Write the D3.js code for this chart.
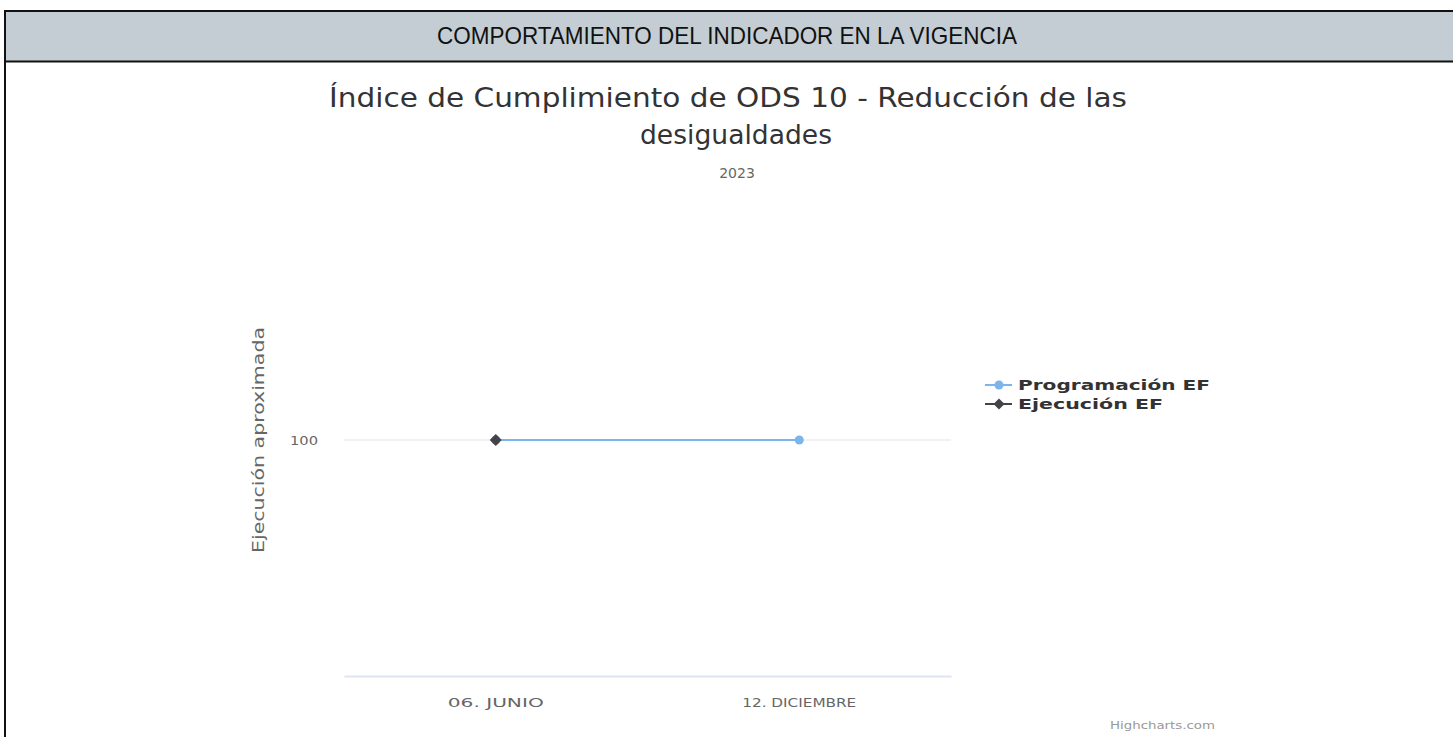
<!DOCTYPE html>
<html>
<head>
<meta charset="utf-8">
<script src="https://cdn.jsdelivr.net/npm/d3@7"></script>
<style>
  html, body { margin: 0; padding: 0; background: #ffffff; }
  svg { display: block; }
</style>
</head>
<body>
<svg id="chart" width="1453" height="737"></svg>
<script>
// Report section heading and chart texts
const sectionHeading = "COMPORTAMIENTO DEL INDICADOR EN LA VIGENCIA";
const titleLines = ["Índice de Cumplimiento de ODS 10 - Reducción de las", "desigualdades"];
const subtitle = "2023";
const yAxisTitle = "Ejecución aproximada";
const credit = "Highcharts.com";

// Categories and series
const categories = ["06. JUNIO", "12. DICIEMBRE"];
const yTicks = [100];
const programacion = [100, 100];
const ejecucion = [100, null];
const seriesNames = ["Programación EF", "Ejecución EF"];
const seriesColors = ["#7cb5ec", "#434348"];
const seriesSymbols = ["circle", "diamond"];

const svg = d3.select("#chart");
const W = 1453, H = 737;

// Section heading band with its borders
svg.append("rect").attr("x", 5).attr("y", 11).attr("width", W - 5).attr("height", 51)
  .attr("fill", "#c3cdd3");
svg.append("line").attr("x1", 4).attr("x2", W).attr("y1", 11).attr("y2", 11)
  .attr("stroke", "#111").attr("stroke-width", 2);
svg.append("line").attr("x1", 4).attr("x2", W).attr("y1", 61.5).attr("y2", 61.5)
  .attr("stroke", "#111").attr("stroke-width", 2);
svg.append("line").attr("x1", 5).attr("x2", 5).attr("y1", 10).attr("y2", H)
  .attr("stroke", "#111").attr("stroke-width", 2);

const head = svg.append("text").attr("x", 727).attr("y", 44)
  .attr("text-anchor", "middle")
  .attr("font-family", "'Liberation Sans Narrow', 'Arial Narrow', 'Liberation Sans', Arial, sans-serif")
  .attr("font-size", 24).attr("fill", "#111")
  .text(sectionHeading);
fitWidth(head, 580);

// Plot area
const plot = { left: 344, right: 951, top: 204, bottom: 676 };

const x = d3.scaleBand().domain(categories).range([plot.left, plot.right]);
const y = d3.scaleLinear().domain([0, 200]).range([plot.bottom, plot.top]);

// Titles
const titleFont = "'DejaVu Sans', 'Open Sans', sans-serif";
const t1 = svg.append("text").attr("x", 728).attr("y", 107).attr("text-anchor", "middle")
  .attr("font-family", titleFont).attr("font-size", 26).attr("fill", "#333333")
  .text(titleLines[0]);
fitWidth(t1, 798);
const t2 = svg.append("text").attr("x", 736).attr("y", 144).attr("text-anchor", "middle")
  .attr("font-family", titleFont).attr("font-size", 26).attr("fill", "#333333")
  .text(titleLines[1]);
fitWidth(t2, 192);
svg.append("text").attr("x", 737).attr("y", 178).attr("text-anchor", "middle")
  .attr("font-family", titleFont).attr("font-size", 14).attr("fill", "#666666")
  .text(subtitle);

// Grid lines
svg.append("g").selectAll("line").data(yTicks).join("line")
  .attr("x1", plot.left).attr("x2", plot.right)
  .attr("y1", d => y(d)).attr("y2", d => y(d))
  .attr("stroke", "#ececec").attr("stroke-width", 1.5);

// Y axis labels
const yAxis = d3.axisLeft(y).tickValues(yTicks).tickSize(0).tickPadding(26);
const yg = svg.append("g").attr("transform", `translate(${plot.left},0)`).call(yAxis);
yg.select(".domain").remove();
yg.selectAll("text").attr("font-family", titleFont).attr("font-size", 13).attr("fill", "#666666")
  .attr("textLength", 28).attr("lengthAdjust", "spacingAndGlyphs");

const yt = svg.append("text")
  .attr("transform", `translate(264,${y(100)}) rotate(-90)`)
  .attr("text-anchor", "middle")
  .attr("font-family", titleFont).attr("font-size", 15).attr("fill", "#666666")
  .text(yAxisTitle);
fitWidth(yt, 226);

// X axis
const xAxis = d3.axisBottom(x).tickSize(0).tickPadding(22);
const xg = svg.append("g").attr("transform", `translate(0,${plot.bottom})`).call(xAxis);
xg.select(".domain").attr("stroke", "#dfe4f2").attr("stroke-width", 2);
const xLabelWidths = [96, 114];
xg.selectAll("text").attr("font-family", titleFont).attr("font-size", 13).attr("fill", "#666666")
  .attr("textLength", (d, i) => xLabelWidths[i]).attr("lengthAdjust", "spacingAndGlyphs");

const cx = d => x(d) + x.bandwidth() / 2;

function marker(sel, kind, r) {
  if (kind === "diamond") {
    return sel.append("path")
      .attr("d", p => `M${p.x},${p.y - r}L${p.x + r},${p.y}L${p.x},${p.y + r}L${p.x - r},${p.y}Z`);
  }
  return sel.append("circle").attr("cx", p => p.x).attr("cy", p => p.y).attr("r", r);
}

// Series lines and markers
const seriesData = [programacion, ejecucion];
const line = d3.line().defined(d => d.v != null).x(d => cx(d.c)).y(d => y(d.v));
seriesData.forEach((vals, i) => {
  const pts = categories.map((c, j) => ({ c, v: vals[j] }));
  svg.append("path").datum(pts).attr("d", line)
    .attr("fill", "none").attr("stroke", seriesColors[i]).attr("stroke-width", 2);
  svg.append("g").selectAll("g").data(pts.filter(p => p.v != null)).join("g")
    .each(function (p) {
      const d = { x: cx(p.c), y: y(p.v) };
      const g = d3.select(this).datum(d);
      marker(g, seriesSymbols[i], seriesSymbols[i] === "diamond" ? 6 : 4.5)
        .attr("fill", seriesColors[i]);
    });
});

// Legend
const legend = svg.append("g").attr("transform", "translate(985,385)");
const legendTextWidths = [192, 145];
seriesNames.forEach((name, i) => {
  const g = legend.append("g").attr("transform", `translate(0,${i * 19})`);
  g.append("line").attr("x1", 0).attr("x2", 27).attr("y1", 0).attr("y2", 0)
    .attr("stroke", seriesColors[i]).attr("stroke-width", 2);
  const mg = g.append("g").datum({ x: 14, y: 0 });
  marker(mg, seriesSymbols[i], seriesSymbols[i] === "diamond" ? 5.5 : 4.5)
    .attr("fill", seriesColors[i]);
  const lt = g.append("text").attr("x", 33).attr("y", 5)
    .attr("font-family", titleFont).attr("font-size", 14).attr("font-weight", "bold")
    .attr("fill", "#333333").text(name);
  fitWidth(lt, legendTextWidths[i]);
});

// Credit
const cr = svg.append("text").attr("x", 1215).attr("y", 729).attr("text-anchor", "end")
  .attr("font-family", titleFont).attr("font-size", 10).attr("fill", "#999999")
  .text(credit);
fitWidth(cr, 105);

function fitWidth(sel, target) {
  const w = sel.node().getComputedTextLength();
  if (w > 0) sel.attr("textLength", target).attr("lengthAdjust", "spacingAndGlyphs");
}
</script>
</body>
</html>
